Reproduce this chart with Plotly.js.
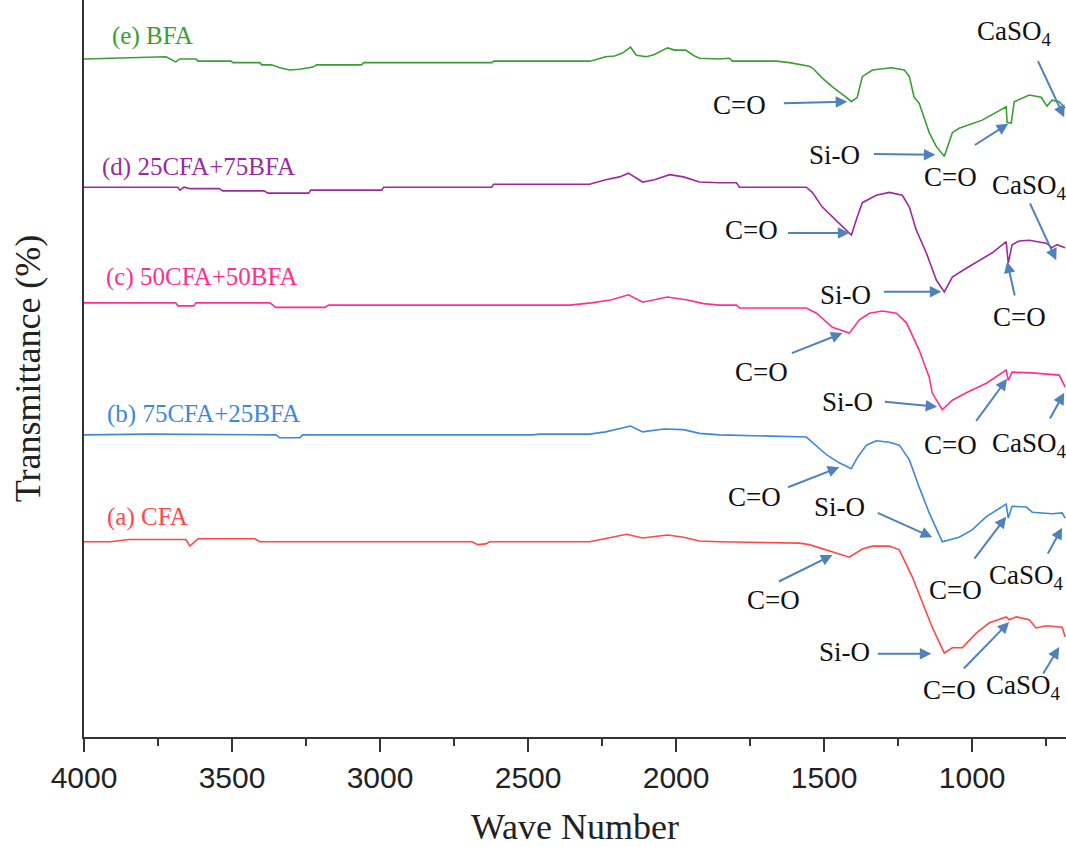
<!DOCTYPE html>
<html>
<head>
<meta charset="utf-8">
<script src="https://cdn.plot.ly/plotly-3.0.1.min.js"></script>
<style>html,body{margin:0;padding:0;background:#fff;}#chart{width:1066px;height:847px;}</style>
</head>
<body>
<div id="chart"></div>
<script>
// ---- Data (wave number, transmittance, arbitrary offset units) ----
const seriesNames = ["(a) CFA", "(b) 75CFA+25BFA", "(c) 50CFA+50BFA", "(d) 25CFA+75BFA", "(e) BFA"];

const wnE = [4000,3723,3690,3676,3622,3615,3504,3497,3406,3400,3366,3339,3305,3271,3227,3214,3062,3055,2623,2616,2410,2292,2272,2238,2208,2181,2154,2134,2100,2073,2029,2005,1968,1938,1921,1854,1820,1810,1661,1617,1550,1540,1506,1472,1425,1408,1388,1371,1337,1273,1229,1212,1196,1179,1145,1121,1094,1067,1044,966,885,882,868,858,807,767,747,730,706,686];
const tE  = [92.0,92.3,91.6,92.0,92.0,91.7,91.7,91.5,91.5,91.2,91.2,90.8,90.5,90.6,90.9,91.2,91.2,91.5,91.5,91.7,91.7,91.7,91.9,92.3,92.4,92.8,93.6,92.5,92.3,92.6,93.5,93.2,93.2,92.4,92.1,92.0,92.1,91.7,91.7,91.5,91.0,90.8,89.4,88.2,86.8,86.2,86.8,89.6,90.5,90.8,90.5,89.6,86.8,86.0,82.0,80.1,78.8,82.0,82.6,83.7,85.5,83.4,83.3,86.2,87.1,86.8,85.6,86.4,86.2,85.3];

const wnD = [4000,3683,3676,3662,3642,3544,3531,3392,3379,3241,3234,2994,2988,2623,2616,2292,2238,2191,2161,2113,2073,2022,1975,1921,1854,1796,1786,1560,1540,1506,1449,1408,1388,1371,1324,1280,1236,1212,1189,1155,1121,1094,1067,1020,932,885,878,865,841,807,750,730,713,686];
const tD  = [74.6,74.6,74.2,74.6,74.4,74.4,74.1,74.1,73.8,73.8,74.2,74.2,74.6,74.6,75.0,75.0,75.6,76.0,76.5,75.3,75.6,76.3,76.0,75.3,75.2,75.2,74.6,74.6,73.9,71.9,69.7,68.1,70.6,72.5,73.5,73.9,73.5,71.9,68.8,65.7,62.0,60.4,62.4,63.6,65.7,67.2,64.3,66.8,67.3,67.4,67.0,66.4,66.8,66.4];

const wnC = [4000,3690,3683,3629,3622,3372,3352,3187,3173,2360,2286,2221,2161,2113,2029,1962,1907,1854,1796,1786,1560,1526,1472,1415,1381,1347,1303,1256,1222,1179,1145,1135,1101,1067,1020,952,885,878,865,797,706,686];
const tC  = [58.9,58.9,58.5,58.5,58.9,58.9,58.3,58.3,58.6,58.6,58.9,59.3,60.0,59.0,59.7,59.3,58.8,58.6,58.6,58.2,58.2,57.5,55.6,54.8,56.6,57.5,57.8,57.5,56.2,52.5,48.8,46.7,44.4,45.7,46.7,48.0,49.8,48.4,49.5,49.4,49.1,47.5];

const wnB = [4000,3777,3352,3339,3271,3261,2485,2461,2292,2238,2154,2113,2042,1975,1921,1854,1560,1540,1492,1449,1408,1388,1357,1324,1280,1246,1212,1179,1145,1101,1044,1000,952,885,878,865,817,797,730,696,686];
const tB  = [41.0,41.1,41.0,40.6,40.6,41.0,41.0,41.1,41.1,41.4,42.2,41.4,41.8,41.7,41.2,41.0,40.7,40.0,38.3,37.2,36.4,37.9,39.6,40.2,40.0,39.6,37.6,33.9,30.4,26.5,27.1,28.1,29.9,31.6,29.7,31.3,31.2,30.5,30.3,30.4,29.7];

const wnA = [4000,3912,3848,3656,3642,3615,3423,3406,2690,2670,2643,2630,2292,2221,2167,2113,2029,1975,1921,1854,1584,1550,1472,1415,1371,1337,1280,1246,1202,1135,1094,1067,1033,986,942,885,875,851,807,784,750,696,686];
const tA  = [26.5,26.5,26.8,26.8,25.9,26.9,26.9,26.5,26.5,26.1,26.2,26.5,26.5,27.1,27.5,27.0,27.4,27.1,26.6,26.5,26.3,26.1,25.1,24.4,25.5,25.9,25.9,25.4,21.7,14.9,11.4,12.1,12.1,14.1,15.5,16.3,15.9,16.3,15.9,14.8,15.1,14.9,13.6];

const xTickVals = [4000,3500,3000,2500,2000,1500,1000];
const xMinorVals = [3750,3250,2750,2250,1750,1250,750];

// ---- Styles ----
const colors = ["#ff4747", "#3d88d9", "#ff2f8f", "#9c2a9e", "#3a9e35"];
const arrowColor = "#4f81bd";
const serif = "Liberation Serif, Times New Roman, serif";

const xs = [wnA, wnB, wnC, wnD, wnE];
const ys = [tA, tB, tC, tD, tE];
const traces = xs.map((x, i) => ({
  x: x, y: ys[i], type: "scatter", mode: "lines", name: seriesNames[i],
  line: {color: colors[i], width: 1.6}, showlegend: false, hoverinfo: "skip"
}));

const labelPos = [[3929, 29.9], [3929, 43.8], [3933, 62.4], [3946, 77.3], [3912, 95.1]];
const annotations = [];
seriesNames.forEach((n, i) => {
  annotations.push({x: labelPos[i][0], y: labelPos[i][1], xref: "x", yref: "y", text: n,
    showarrow: false, xanchor: "left", yanchor: "middle",
    font: {family: serif, size: 25, color: colors[i]}});
});

// peak annotation: [text, textX, textY, tailX, tailY, headX, headY]
const CaSO4 = "CaSO<sub>4</sub>";
const peakNotes = [
  ["C=O", 1786, 85.8, 1641, 86.0, 1422, 86.2],
  ["Si-O", 1465, 79.0, 1337, 79.1, 1124, 79.0],
  ["C=O", 1074, 76.0, 996, 80.2, 878, 83.2],
  [CaSO4, 858, 95.5, 780, 91.9, 689, 84.1],
  ["C=O", 1745, 68.8, 1627, 68.4, 1415, 68.4],
  ["Si-O", 1428, 60.0, 1303, 60.4, 1104, 60.4],
  ["C=O", 841, 57.0, 855, 59.7, 882, 64.5],
  [CaSO4, 807, 74.6, 807, 72.6, 716, 64.7],
  ["C=O", 1712, 49.5, 1614, 52.0, 1438, 54.8],
  ["Si-O", 1422, 45.5, 1300, 45.5, 1118, 44.8],
  ["C=O", 1074, 39.6, 990, 42.7, 882, 48.6],
  [CaSO4, 807, 39.6, 740, 43.0, 689, 46.7],
  ["C=O", 1735, 32.6, 1627, 33.8, 1449, 36.6],
  ["Si-O", 1449, 31.2, 1324, 30.5, 1135, 27.1],
  ["C=O", 1057, 19.9, 996, 24.0, 885, 29.9],
  [CaSO4, 817, 21.7, 747, 24.7, 696, 28.4],
  ["C=O", 1671, 18.6, 1658, 21.0, 1472, 24.7],
  ["Si-O", 1432, 11.5, 1324, 11.3, 1138, 11.3],
  ["C=O", 1077, 6.4, 1033, 9.1, 875, 15.6],
  [CaSO4, 828, 6.8, 763, 8.4, 706, 12.2]
];
peakNotes.forEach(p => {
  annotations.push({x: p[1], y: p[2], xref: "x", yref: "y", text: p[0], showarrow: false,
    xanchor: "center", yanchor: "middle", font: {family: serif, size: 27, color: "#111"}});
  annotations.push({x: p[5], y: p[6], ax: p[3], ay: p[4], xref: "x", yref: "y", axref: "x", ayref: "y",
    text: "", showarrow: true, arrowhead: 2, arrowsize: 1.15, arrowwidth: 2, arrowcolor: arrowColor, standoff: 0, startstandoff: 0});
});

const layout = {
  width: 1066, height: 847,
  margin: {l: 84, r: 0, t: 0, b: 110},
  paper_bgcolor: "#fff", plot_bgcolor: "#fff",
  xaxis: {
    range: [4000, 683], tickvals: xTickVals, ticktext: xTickVals.map(String),
    ticks: "outside", ticklen: 13, tickwidth: 2, tickcolor: "#333",
    minor: {tickvals: xMinorVals, ticks: "outside", ticklen: 7, tickwidth: 2, tickcolor: "#333"},
    showline: true, linewidth: 2, linecolor: "#333", showgrid: false, zeroline: false,
    tickfont: {family: "Liberation Sans, Arial, sans-serif", size: 30, color: "#222"},
    title: {text: "Wave Number", font: {family: serif, size: 36, color: "#222"}, standoff: 26}
  },
  yaxis: {
    range: [0, 100], showticklabels: false, ticks: "", showgrid: false, zeroline: false,
    showline: true, linewidth: 2, linecolor: "#333",
    title: {text: "Transmittance (%)", font: {family: serif, size: 36, color: "#222"}, standoff: 30}
  },
  annotations: annotations
};

Plotly.newPlot("chart", traces, layout, {staticPlot: true});
</script>
</body>
</html>
